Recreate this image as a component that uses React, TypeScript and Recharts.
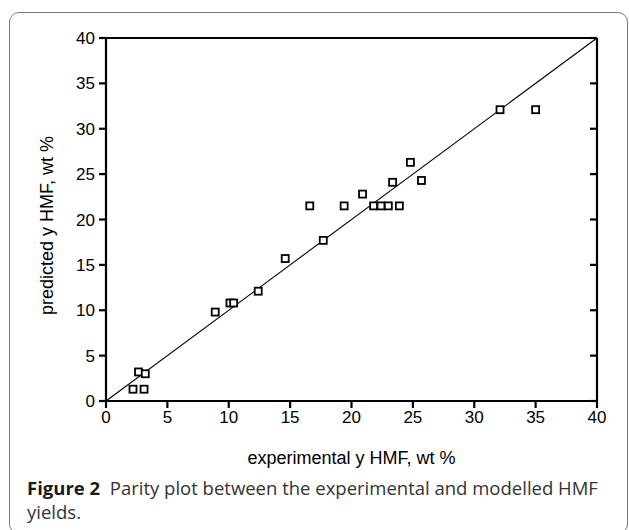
import React from 'react';
import { ScatterChart, Scatter, XAxis, YAxis, ReferenceLine } from 'recharts';

const experimental = [2.2, 3.1, 2.65, 3.2, 8.9, 10.1, 10.4, 12.4, 14.6, 17.7, 16.6, 19.4, 20.9, 21.8, 22.4, 23.0, 23.9, 23.35, 24.8, 25.7, 32.1, 35.0];
const predicted = [1.3, 1.3, 3.2, 3.0, 9.8, 10.8, 10.8, 12.1, 15.7, 17.7, 21.5, 21.5, 22.8, 21.5, 21.5, 21.5, 21.5, 24.1, 26.3, 24.3, 32.1, 32.1];
const axisTicks = [0, 5, 10, 15, 20, 25, 30, 35, 40];
const parityLine = [{ x: 0, y: 0 }, { x: 40, y: 40 }];

const points = experimental.map((x, i) => ({ x, y: predicted[i] }));

const SquareShape = (props: any) => {
  const { cx, cy } = props;
  const s = 7;
  return <rect x={cx - s / 2} y={cy - s / 2} width={s} height={s} fill="#fff" stroke="#000" strokeWidth={1.8} />;
};

const FONT = '"Liberation Sans", Arial, sans-serif';
const tickStyle = { fontFamily: FONT, fontSize: 17, fill: '#000' };
const axisStroke = { stroke: '#000', strokeWidth: 2.2 };

export default function App() {
  return (
    <div style={{ position: 'absolute', left: 0, top: 0, width: 629, height: 530, overflow: 'hidden', background: '#fff' }}>
      <div
        style={{
          position: 'absolute', left: 9, top: 12, width: 619, height: 522,
          border: '1px solid #7a7a7a', borderRadius: 10, boxSizing: 'border-box',
        }}
      />
      <div style={{ position: 'absolute', left: 0, top: 0 }}>
        <ScatterChart width={629} height={530} margin={{ top: 38, right: 32, left: 46, bottom: 99 }}>
          <XAxis
            xAxisId="b" dataKey="x" type="number" domain={[0, 40]} ticks={axisTicks} allowDataOverflow
            height={30} tickSize={7} tickMargin={3} tick={tickStyle}
            axisLine={axisStroke} tickLine={axisStroke}
            label={{
              content: (p: any) => (
                <text x={p.viewBox.x + p.viewBox.width / 2} y={p.viewBox.y + 57} textAnchor="middle" dominantBaseline="central"
                  style={{ fontFamily: FONT, fontSize: 18, fill: '#000' }}>experimental y HMF, wt %</text>
              ),
            }}
          />
          <XAxis
            xAxisId="t" orientation="top" mirror type="number" domain={[0, 40]} ticks={axisTicks} allowDataOverflow
            height={10} tickSize={7} tick={{ fontSize: 0 }} tickFormatter={() => ''}
            axisLine={axisStroke} tickLine={axisStroke}
          />
          <YAxis
            yAxisId="l" dataKey="y" type="number" domain={[0, 40]} ticks={axisTicks} allowDataOverflow
            width={60} tickSize={7} tickMargin={4} tick={tickStyle}
            axisLine={axisStroke} tickLine={axisStroke}
            label={{
              content: (p: any) => {
                const cx = p.viewBox.x + 1;
                const cy = p.viewBox.y + p.viewBox.height / 2 + 6;
                return (
                  <text x={cx} y={cy} textAnchor="middle" dominantBaseline="central" transform={`rotate(-90 ${cx} ${cy})`}
                    style={{ fontFamily: FONT, fontSize: 18, fill: '#000' }}>predicted y HMF, wt %</text>
                );
              },
            }}
          />
          <YAxis
            yAxisId="r" orientation="right" mirror type="number" domain={[0, 40]} ticks={axisTicks} allowDataOverflow
            width={10} tickSize={7} tick={{ fontSize: 0 }} tickFormatter={() => ''}
            axisLine={axisStroke} tickLine={axisStroke}
          />
          <ReferenceLine xAxisId="b" yAxisId="l" segment={parityLine} stroke="#000" strokeWidth={1.1} ifOverflow="visible" />
          <Scatter xAxisId="b" yAxisId="l" data={points} shape={SquareShape} isAnimationActive={false} />
        </ScatterChart>
      </div>
      <div
        style={{
          position: 'absolute', left: 27, top: 476, width: 610,
          fontFamily: '"Open Sans", "Noto Sans", sans-serif', fontSize: 18.5, lineHeight: '24px', color: '#333', whiteSpace: 'nowrap',
        }}
      >
        <span style={{ fontWeight: 700, color: '#1a1a1a' }}>Figure 2</span>
        {'\u00a0\u00a0'}Parity plot between the experimental and modelled HMF
        <br />
        yields.
      </div>
    </div>
  );
}
